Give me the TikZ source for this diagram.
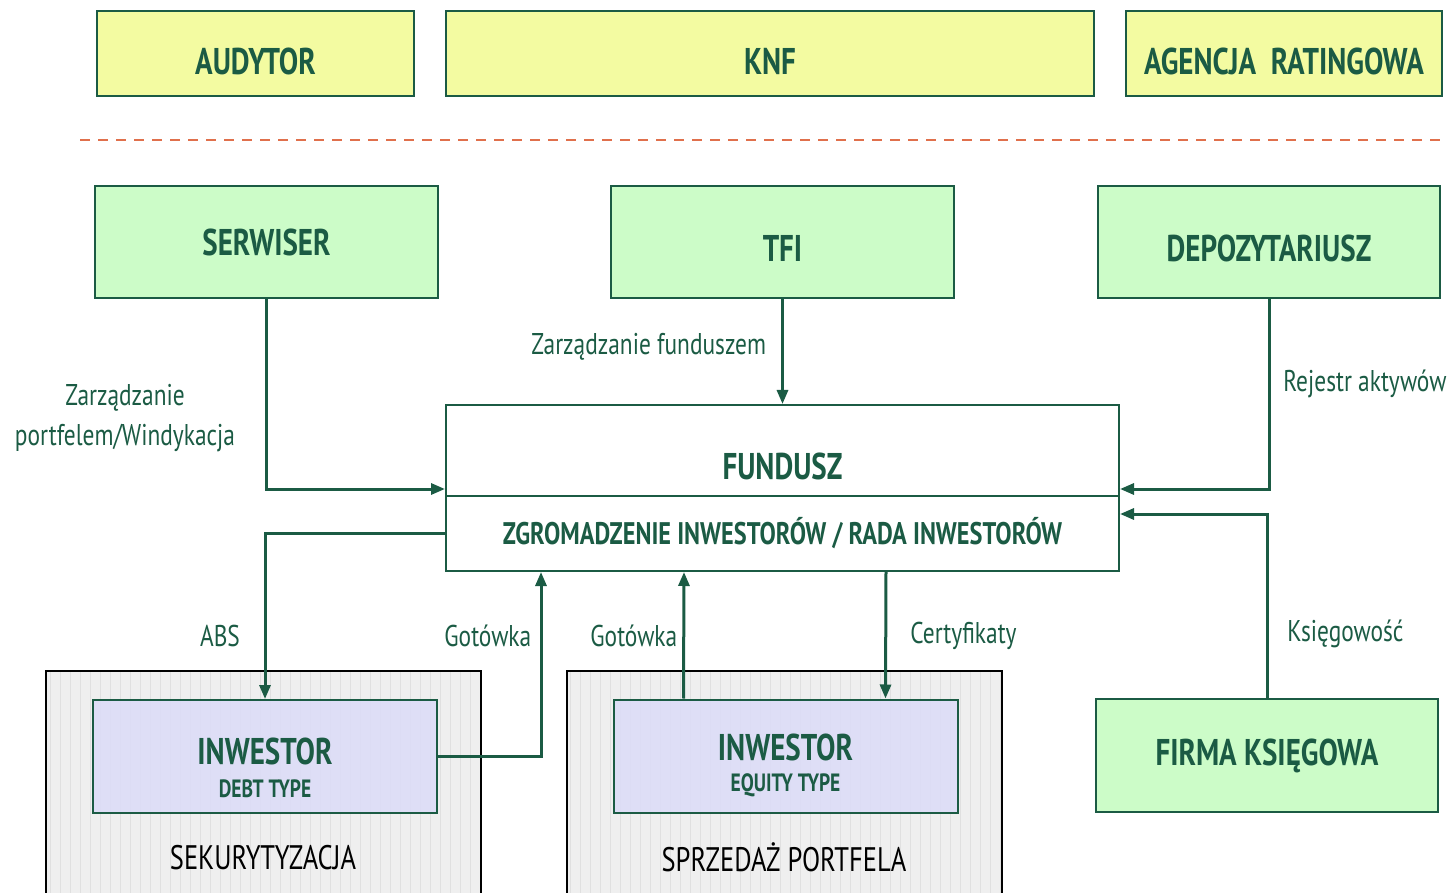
\documentclass[tikz,border=0pt]{standalone}
\usepackage{fontspec}
\setmainfont[FakeStretch=0.78]{PT Sans}
\usetikzlibrary{arrows.meta,calc}
\definecolor{dg}{HTML}{1B5B44}
\definecolor{yel}{HTML}{F3FBA1}
\definecolor{grn}{HTML}{CCFCC8}
\definecolor{lav}{HTML}{DCDCF8}
\definecolor{gbg}{HTML}{EFEFEF}
\definecolor{gline}{HTML}{E0E0E0}
\definecolor{sepc}{HTML}{E0704C}
\newcommand\dnt[2]{\raisebox{-#1}[\height][\depth]{#2}}
\tikzset{
  box/.style={draw=dg, line width=1pt, inner sep=0pt, text=dg, font=\fontsize{18.6}{20}\selectfont\bfseries},
  ybox/.style={box, fill=yel, minimum height=42.5pt},
  gbox/.style={box, fill=grn, minimum height=56pt},
  ibox/.style={draw=dg, line width=1pt, fill=lav, fill opacity=0.85, minimum width=172pt, minimum height=56.5pt},
  ititle/.style={text=dg, inner sep=0pt, font=\fontsize{18.6}{20}\selectfont\bfseries},
  isub/.style={text=dg, inner sep=0pt, font=\fontsize{12.5}{14}\selectfont\bfseries},
  lbl/.style={text=dg, font=\fontsize{15}{18}\selectfont, inner sep=0pt, align=center},
  arr/.style={draw=dg, line width=1.5pt, -{Triangle[length=7pt,width=5.5pt]}},
}
\begin{document}
\begin{tikzpicture}[x=0.5pt,y=-0.5pt]
\useasboundingbox (0,0) rectangle (1447,893);
% top row
\node[ybox, minimum width=158.5pt] (aud) at (255.5,53.5) {\dnt{3.75pt}{AUDYTOR}};
\node[ybox, minimum width=324pt] (knf) at (770,53.5) {\dnt{3.75pt}{KNF}};
\node[ybox, minimum width=158pt] (agen) at (1284,53.5) {\dnt{3.75pt}{AGENCJA\ \ RATINGOWA}};
% dashed separator
\coordinate (dl) at (80,140);
\coordinate (dr) at (1447,140);
\draw[sepc, line width=1pt, dash pattern=on 5pt off 4pt] (dl) -- (dr);
% green row
\node[gbox, minimum width=171.5pt] (serw) at (266.5,242) {SERWISER};
\node[gbox, minimum width=171.5pt] (tfi) at (782.5,242) {\dnt{3pt}{TFI}};
\node[gbox, minimum width=171pt] (depo) at (1269,242) {\dnt{3pt}{DEPOZYTARIUSZ}};
% fundusz
\node[box, minimum width=336.5pt, minimum height=45.5pt] (fund) at (782.5,450.5) {};
\node[text=dg, font=\fontsize{18.6}{20}\selectfont\bfseries, inner sep=0pt] (fundt) at (782.5,466) {FUNDUSZ};
\node[box, minimum width=336.5pt, minimum height=37.5pt, font=\fontsize{15.6}{18}\selectfont\bfseries] (zgr) at (782.5,533.5) {ZGROMADZENIE INWESTORÓW / RADA INWESTORÓW};
% firma
\node[gbox, minimum width=171pt, minimum height=56.5pt] (firma) at (1267,755.5) {FIRMA KSIĘGOWA};
% gray containers
\foreach \xa/\xb in {46/481, 567/1002} {
  \fill[gbg] (\xa,671) rectangle (\xb,900);
  \begin{scope}
    \clip (\xa,671) rectangle (\xb,900);
    \draw[gline, line width=0.5pt, step=10] (\xa,660) grid (\xb,900);
  \end{scope}
  \draw[black, line width=1.2pt] (\xa,900) -- (\xa,671) -- (\xb,671) -- (\xb,900);
}
\node[ibox] (debt) at (265,756.5) {};
\node[ititle] (debtt) at (265,751) {INWESTOR};
\node[isub] (debts) at (265,789) {DEBT TYPE};
\node[ibox] (eq) at (785.5,756) {};
\node[ititle] (eqt) at (785.5,747) {INWESTOR};
\node[isub] (eqs) at (785.5,785) {EQUITY TYPE};
\node[font=\fontsize{17}{20}\selectfont, inner sep=0pt] (sek) at (263,858) {SEKURYTYZACJA};
\node[font=\fontsize{17}{20}\selectfont, inner sep=0pt] (spr) at (784,857) {SPRZEDAŻ PORTFELA};
% connectors
\draw[arr] (serw.south) |- ($(fund.south west)+(0,-8)$);
\draw[arr] (tfi.south) -- (tfi.south |- fund.north);
\draw[arr] (depo.south) |- ($(fund.south east)+(0,-8)$);
\draw[arr] (firma.north) |- ($(zgr.north east)+(0,19)$);
\draw[arr] ($(zgr.north west)+(0,38)$) -| (debt.north);
\draw[arr] (debt.east) -| ($(zgr.south west)+(96,0)$);
\draw[arr] ($(eq.north west)+(71,0)$) -- ($(zgr.south west)+(239,0)$);
\draw[arr] ($(zgr.south west)+(441,0)$) -- ($(eq.north west)+(273,0)$);
% labels
\node[lbl] (l1) at (125,418) {Zarządzanie\\[2pt]portfelem/Windykacja};
\node[lbl, anchor=west] (l2) at (531,347) {Zarządzanie funduszem};
\node[lbl, anchor=west] (l3) at (1283,384) {Rejestr aktywów};
\node[lbl] (l4) at (220,636) {ABS};
\node[lbl, anchor=west] (l5) at (444,636) {Gotówka};
\node[lbl, anchor=west] (l6) at (590,636) {Gotówka};
\node[lbl, anchor=west] (l7) at (910,636) {Certyfikaty};
\node[lbl, anchor=west] (l8) at (1287,634) {Księgowość};
\end{tikzpicture}
\end{document}
